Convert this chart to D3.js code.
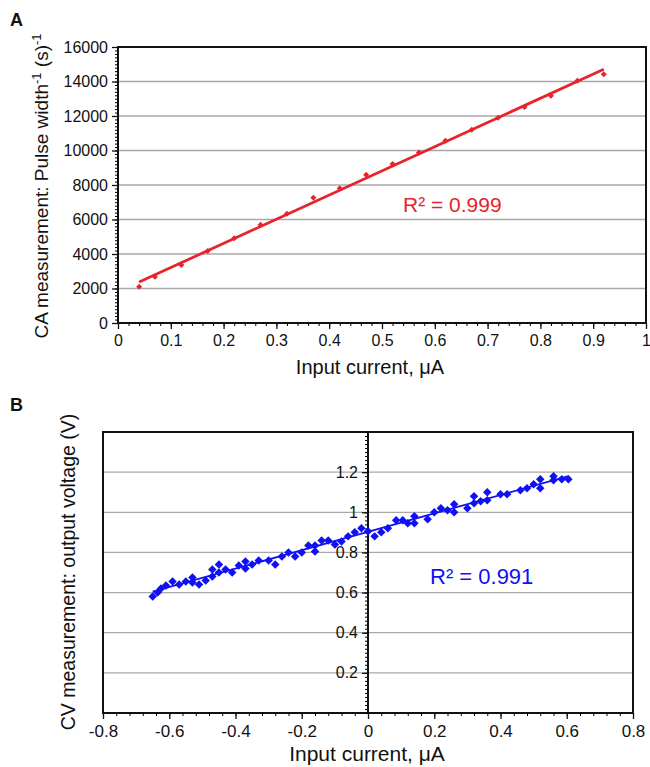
<!DOCTYPE html>
<html>
<head>
<meta charset="utf-8">
<script src="https://cdn.jsdelivr.net/npm/d3@7"></script>
<style>
  body { margin: 0; background: #fff; }
  text { font-family: "Liberation Sans", Arial, sans-serif; }
</style>
</head>
<body>
<div id="chart"></div>
<script>
// panel A: chronoamperometry, pulse width^-1 vs input current
var caCurrent = [0.04, 0.07, 0.12, 0.17, 0.22, 0.27, 0.32, 0.37, 0.42, 0.47,
                 0.52, 0.57, 0.62, 0.67, 0.72, 0.77, 0.82, 0.87, 0.92];
var caRate = [2100, 2680, 3360, 4170, 4910, 5700, 6340, 7260, 7810, 8600,
              9220, 9890, 10570, 11200, 11900, 12520, 13180, 14050, 14420];
var caYTicks = [0, 2000, 4000, 6000, 8000, 10000, 12000, 14000, 16000];
var caXTicks = [0, 0.1, 0.2, 0.3, 0.4, 0.5, 0.6, 0.7, 0.8, 0.9, 1];

// panel B: CV output voltage vs input current
var cvCurrent = [-0.65, -0.635, -0.625, -0.61, -0.59, -0.57, -0.55, -0.53, -0.53, -0.51,
                 -0.49, -0.47, -0.47, -0.45, -0.45, -0.43, -0.41, -0.39, -0.37, -0.37,
                 -0.35, -0.33, -0.30, -0.28, -0.26, -0.24, -0.22, -0.20, -0.18, -0.16,
                 -0.16, -0.14, -0.12, -0.10, -0.08, -0.06, -0.04, -0.02, 0.00, 0.02,
                 0.04, 0.06, 0.085, 0.105, 0.12, 0.14, 0.14, 0.18, 0.20, 0.22,
                 0.24, 0.26, 0.26, 0.30, 0.32, 0.32, 0.34, 0.36, 0.36, 0.40,
                 0.42, 0.46, 0.48, 0.50, 0.52, 0.52, 0.56, 0.56, 0.585, 0.605];
var cvVoltage = [0.58, 0.60, 0.62, 0.635, 0.655, 0.64, 0.655, 0.675, 0.65, 0.64,
                 0.66, 0.715, 0.68, 0.74, 0.70, 0.715, 0.70, 0.735, 0.755, 0.72,
                 0.74, 0.76, 0.76, 0.74, 0.78, 0.80, 0.78, 0.80, 0.835, 0.805,
                 0.835, 0.86, 0.86, 0.84, 0.855, 0.88, 0.90, 0.92, 0.905, 0.88,
                 0.90, 0.92, 0.96, 0.96, 0.945, 0.98, 0.945, 0.965, 1.00, 1.02,
                 1.01, 1.04, 1.00, 1.02, 1.08, 1.045, 1.055, 1.10, 1.06, 1.09,
                 1.09, 1.11, 1.12, 1.14, 1.165, 1.12, 1.18, 1.16, 1.165, 1.165];
var cvYTicks = [0.2, 0.4, 0.6, 0.8, 1, 1.2];
var cvXTicks = [-0.8, -0.6, -0.4, -0.2, 0, 0.2, 0.4, 0.6, 0.8];

var red = "#e8232b", blue = "#1010f5", grid = "#a8a8a8";

function linfit(xs, ys) {
  var mx = d3.mean(xs), my = d3.mean(ys), sxy = 0, sxx = 0;
  xs.forEach(function(x, i) { sxy += (x - mx) * (ys[i] - my); sxx += (x - mx) * (x - mx); });
  var m = sxy / sxx;
  return function(x) { return my + m * (x - mx); };
}

var svg = d3.select("#chart").append("svg")
  .attr("width", 650).attr("height", 767);

var diamond = function(size) {
  return d3.symbol().type(d3.symbolSquare).size(size);
};

// ---------- panel A ----------
var xA = d3.scaleLinear().domain([0, 1]).range([118, 646]);
var yA = d3.scaleLinear().domain([0, 16000]).range([323, 47]);

var gA = svg.append("g");

gA.selectAll(".gridA").data(caYTicks.slice(1, -1)).enter().append("line")
  .attr("x1", xA(0)).attr("x2", xA(1))
  .attr("y1", function(d) { return yA(d); }).attr("y2", function(d) { return yA(d); })
  .attr("stroke", grid).attr("stroke-width", 1.3);

gA.append("rect")
  .attr("x", xA(0)).attr("y", yA(16000))
  .attr("width", xA(1) - xA(0)).attr("height", yA(0) - yA(16000))
  .attr("fill", "none").attr("stroke", "#111").attr("stroke-width", 2);

// minor ticks
gA.append("g").attr("transform", "translate(" + xA(0) + ",0)")
  .call(d3.axisLeft(yA).tickValues(d3.range(0, 16001, 200)).tickSize(3).tickFormat(""))
  .call(function(g) { g.select(".domain").remove(); });
gA.append("g").attr("transform", "translate(0," + yA(0) + ")")
  .call(d3.axisBottom(xA).tickValues(d3.range(0, 1.001, 0.02)).tickSize(3).tickFormat(""))
  .call(function(g) { g.select(".domain").remove(); });

var axAy = gA.append("g").attr("transform", "translate(" + xA(0) + ",0)")
  .call(d3.axisLeft(yA).tickValues(caYTicks).tickSize(6).tickPadding(4).tickFormat(d3.format("d")));
var axAx = gA.append("g").attr("transform", "translate(0," + yA(0) + ")")
  .call(d3.axisBottom(xA).tickValues(caXTicks).tickSize(6).tickPadding(6)
    .tickFormat(function(d) { return d === 0 || d === 1 ? d : d.toFixed(1); }));
[axAy, axAx].forEach(function(a) {
  a.select(".domain").remove();
  a.selectAll("text").attr("font-size", 16).attr("fill", "#111")
    .attr("font-family", "Liberation Sans, Arial, sans-serif");
  a.selectAll("line").attr("stroke", "#111").attr("stroke-width", 1.3);
});

var fitA = linfit(caCurrent, caRate);
var extA = d3.extent(caCurrent);
gA.append("line")
  .attr("x1", xA(extA[0])).attr("y1", yA(fitA(extA[0])))
  .attr("x2", xA(extA[1])).attr("y2", yA(fitA(extA[1])))
  .attr("stroke", red).attr("stroke-width", 2.8);

gA.selectAll(".ptA").data(caCurrent).enter().append("path")
  .attr("d", diamond(18)())
  .attr("transform", function(d, i) { return "translate(" + xA(d) + "," + yA(caRate[i]) + ") rotate(45)"; })
  .attr("fill", red);

gA.append("text").attr("x", 403).attr("y", 212)
  .attr("font-size", 21).attr("fill", red).text("R² = 0.999");

gA.append("text").attr("x", 370).attr("y", 374).attr("text-anchor", "middle")
  .attr("font-size", 20).attr("fill", "#111").text("Input current, μA");

var tA = gA.append("text").attr("transform", "translate(48,186) rotate(-90)")
  .attr("text-anchor", "middle").attr("font-size", 19).attr("fill", "#111");
tA.append("tspan").text("CA measurement: Pulse width");
tA.append("tspan").attr("font-size", 13).attr("dy", -7).text("-1");
tA.append("tspan").attr("dy", 7).text(" (s)");
tA.append("tspan").attr("font-size", 13).attr("dy", -7).text("-1");

svg.append("text").attr("x", 10).attr("y", 26).attr("font-size", 18)
  .attr("font-weight", "bold").attr("fill", "#111").text("A");

// ---------- panel B ----------
var xB = d3.scaleLinear().domain([-0.8, 0.8]).range([103, 633]);
var yB = d3.scaleLinear().domain([0, 1.4]).range([713, 432]);

var gB = svg.append("g");

gB.selectAll(".gridB").data(cvYTicks).enter().append("line")
  .attr("x1", xB(-0.8)).attr("x2", xB(0.8))
  .attr("y1", function(d) { return yB(d); }).attr("y2", function(d) { return yB(d); })
  .attr("stroke", grid).attr("stroke-width", 1.3);

gB.append("rect")
  .attr("x", xB(-0.8)).attr("y", yB(1.4))
  .attr("width", xB(0.8) - xB(-0.8)).attr("height", yB(0) - yB(1.4))
  .attr("fill", "none").attr("stroke", "#111").attr("stroke-width", 2);

gB.append("g").attr("transform", "translate(" + xB(0) + ",0)")
  .call(d3.axisLeft(yB).tickValues(d3.range(0, 1.401, 0.02)).tickSize(3).tickFormat(""))
  .call(function(g) { g.select(".domain").remove(); });
gB.append("g").attr("transform", "translate(0," + yB(0) + ")")
  .call(d3.axisBottom(xB).tickValues(d3.range(-0.8, 0.801, 0.04)).tickSize(3).tickFormat(""))
  .call(function(g) { g.select(".domain").remove(); });

var axBy = gB.append("g").attr("transform", "translate(" + xB(0) + ",0)")
  .call(d3.axisLeft(yB).tickValues(cvYTicks).tickSize(6).tickPadding(4)
    .tickFormat(function(d) { return d === 1 ? "1" : d.toFixed(1); }));
var axBx = gB.append("g").attr("transform", "translate(0," + yB(0) + ")")
  .call(d3.axisBottom(xB).tickValues(cvXTicks).tickSize(6).tickPadding(6)
    .tickFormat(function(d) { return Math.abs(d) < 1e-9 ? "0" : d.toFixed(1); }));
axBy.select(".domain").attr("stroke", "#111").attr("stroke-width", 2)
  .attr("d", "M0," + yB(0) + "V" + yB(1.4));
axBx.select(".domain").remove();
[axBy, axBx].forEach(function(a) {
  a.selectAll("text").attr("font-size", 17).attr("fill", "#111")
    .attr("font-family", "Liberation Sans, Arial, sans-serif");
  a.selectAll(".tick line").attr("stroke", "#111").attr("stroke-width", 1.3);
});
axBy.selectAll("text").attr("font-size", 16);

var fitB = linfit(cvCurrent, cvVoltage);
var extB = d3.extent(cvCurrent);
gB.append("line")
  .attr("x1", xB(extB[0])).attr("y1", yB(fitB(extB[0])))
  .attr("x2", xB(extB[1])).attr("y2", yB(fitB(extB[1])))
  .attr("stroke", blue).attr("stroke-width", 1.8);

gB.selectAll(".ptB").data(cvCurrent).enter().append("path")
  .attr("d", diamond(36)())
  .attr("transform", function(d, i) { return "translate(" + xB(d) + "," + yB(cvVoltage[i]) + ") rotate(45)"; })
  .attr("fill", blue);

gB.append("text").attr("x", 430).attr("y", 584)
  .attr("font-size", 22).attr("fill", blue).text("R² = 0.991");

gB.append("text").attr("x", 367).attr("y", 761).attr("text-anchor", "middle")
  .attr("font-size", 21).attr("fill", "#111").text("Input current, μA");

gB.append("text").attr("transform", "translate(75,572) rotate(-90)")
  .attr("text-anchor", "middle").attr("font-size", 19.5).attr("fill", "#111")
  .text("CV measurement: output voltage (V)");

svg.append("text").attr("x", 10).attr("y", 411).attr("font-size", 18)
  .attr("font-weight", "bold").attr("fill", "#111").text("B");
</script>
</body>
</html>
